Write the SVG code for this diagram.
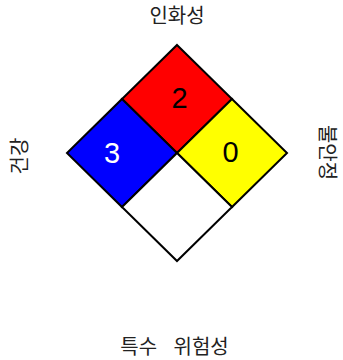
<svg xmlns="http://www.w3.org/2000/svg" width="343" height="360" viewBox="0 0 343 360">
  <style>
    .q { stroke: #000; stroke-width: 2; stroke-linejoin: miter; }
    .num { font-family: "Liberation Sans", Arial, sans-serif; font-size: 29px; text-anchor: middle; }
    .lbl { font-family: "Noto Sans CJK KR", "Noto Sans", sans-serif; font-size: 20px; text-anchor: middle; fill: #222; }
  </style>
  <rect width="343" height="360" fill="#fff"/>
  <g id="flammability">
    <polygon class="q" fill="#ff0000" points="177,45 232,99 177,153 122,99"/>
    <text class="num" x="179.5" y="107.5" fill="#000">2</text>
  </g>
  <g id="health">
    <polygon class="q" fill="#0000ff" points="122,99 177,153 122,207 67,153"/>
    <text class="num" x="112" y="163" fill="#fff">3</text>
  </g>
  <g id="instability">
    <polygon class="q" fill="#ffff00" points="232,99 287,153 232,207 177,153"/>
    <text class="num" x="230.5" y="162" fill="#000">0</text>
  </g>
  <g id="special">
    <polygon class="q" fill="#ffffff" points="177,153 232,207 177,261 122,207"/>
  </g>
  <g id="labels">
    <text class="lbl" x="177" y="22.5">인화성</text>
    <g transform="translate(20,156) rotate(-90)"><text class="lbl" x="0" y="7">건강</text></g>
    <g transform="translate(326.5,152.5) rotate(90)"><text class="lbl" x="0" y="7">불안정</text></g>
    <text class="lbl" x="174.5" y="353.5" word-spacing="12">특수 위험성</text>
  </g>
</svg>
